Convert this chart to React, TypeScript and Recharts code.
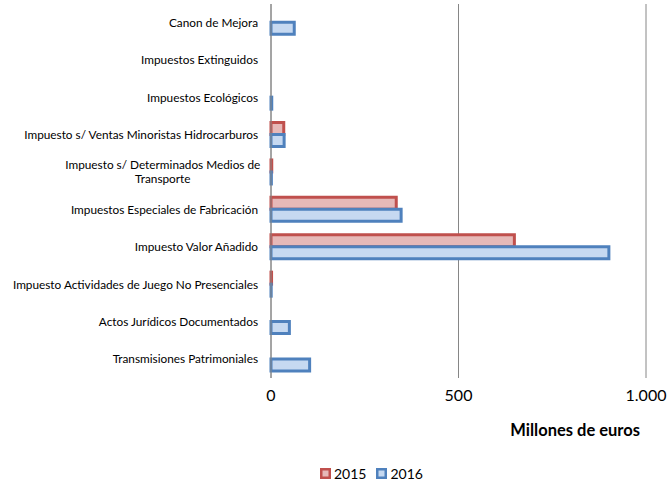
import React from "react";
import {
  BarChart,
  Bar,
  XAxis,
  YAxis,
  CartesianGrid,
  Legend,
} from "recharts";

const categories = [
  "Canon de Mejora",
  "Impuestos Extinguidos",
  "Impuestos Ecológicos",
  "Impuesto s/ Ventas Minoristas Hidrocarburos",
  "Impuesto s/ Determinados Medios de|Transporte",
  "Impuestos Especiales de Fabricación",
  "Impuesto Valor Añadido",
  "Impuesto Actividades de Juego No Presenciales",
  "Actos Jurídicos Documentados",
  "Transmisiones Patrimoniales",
];

const values2015 = [null, null, null, 34, 2, 334, 649, 1.5, null, null];
const values2016 = [62, null, 2, 35, 1, 347, 901, 0.5, 49, 103];

const xTicks = [0, 500, 1000];

const data = categories.map((name, i) => ({
  name,
  y2015: values2015[i],
  y2016: values2016[i],
}));

const FONT = "Lato, 'Open Sans', sans-serif";
const RED = "#C0504D";
const RED_FILL = "#E6B9B8";
const BLUE = "#4F81BD";
const BLUE_FILL = "#C6D9F1";

const formatThousands = (v: number) =>
  String(v).replace(/\B(?=(\d{3})+(?!\d))/g, ".");

function CategoryTick(props: any) {
  const { x, y, payload } = props;
  const lines: string[] = String(payload.value).split("|");
  const lineH = 14;
  const fs = 11.8;
  const startY = y - ((lines.length - 1) * lineH) / 2;
  if (lines.length === 1) {
    return (
      <text x={x} y={y} dy={4} textAnchor="end" fontSize={fs} fill="#000" fontFamily={FONT}>
        {lines[0]}
      </text>
    );
  }
  // multi-line label: block right-aligned, lines centred within block
  const blockW = lines[0].length * 5.6;
  const cx = x - blockW / 2;
  return (
    <g>
      {lines.map((l, i) => (
        <text key={i} x={cx} y={startY + i * lineH} dy={4} textAnchor="middle" fontSize={fs} fill="#000" fontFamily={FONT}>
          {l}
        </text>
      ))}
    </g>
  );
}

function AxisTitle(props: any) {
  const { viewBox } = props;
  return (
    <text
      x={viewBox.x + viewBox.width - 6}
      y={viewBox.y + 58}
      textAnchor="end"
      fontSize={16.5}
      fontWeight="bold"
      fill="#000"
      fontFamily={FONT}
    >
      Millones de euros
    </text>
  );
}

function LegendBox() {
  const items = [
    { label: "2015", stroke: RED, fill: RED_FILL },
    { label: "2016", stroke: BLUE, fill: BLUE_FILL },
  ];
  return (
    <div style={{ display: "flex", alignItems: "center", height: 30, gap: 10, fontFamily: FONT, fontSize: 14 }}>
      {items.map((it) => (
        <div key={it.label} style={{ display: "flex", alignItems: "center", gap: 3 }}>
          <svg width={11} height={11}>
            <rect x={1.25} y={1.25} width={8.5} height={8.5} fill={it.fill} stroke={it.stroke} strokeWidth={2.5} />
          </svg>
          <span>{it.label}</span>
        </div>
      ))}
    </div>
  );
}

export default function App() {
  return (
    <div style={{ position: "absolute", left: 0, top: 0, background: "#fff" }}>
      <BarChart
        width={668}
        height={488}
        data={data}
        layout="vertical"
        margin={{ top: 4, right: 22, left: 0, bottom: 0 }}
        barCategoryGap="17%"
        barGap={0}
      >
        <CartesianGrid horizontal={false} stroke="#868686" />
        <XAxis
          type="number"
          domain={[0, 1000]}
          ticks={xTicks}
          tickFormatter={formatThousands}
          axisLine={false}
          tickLine={false}
          tickMargin={6}
          height={80}
          tick={{ fontSize: 16, fill: "#000", fontFamily: FONT }}
          label={<AxisTitle />}
          interval={0}
        />
        <YAxis
          type="category"
          dataKey="name"
          width={271}
          axisLine={{ stroke: "#868686" }}
          tickLine={false}
          tickSize={0}
          tickMargin={13}
          interval={0}
          tick={<CategoryTick />}
        />
        <Legend
          verticalAlign="bottom"
          height={30}
          content={<LegendBox />}
          wrapperStyle={{ left: 320, width: 120 }}
        />
        <Bar dataKey="y2015" name="2015" fill={RED_FILL} stroke={RED} strokeWidth={3} isAnimationActive={false} />
        <Bar dataKey="y2016" name="2016" fill={BLUE_FILL} stroke={BLUE} strokeWidth={3} isAnimationActive={false} />
      </BarChart>
    </div>
  );
}
